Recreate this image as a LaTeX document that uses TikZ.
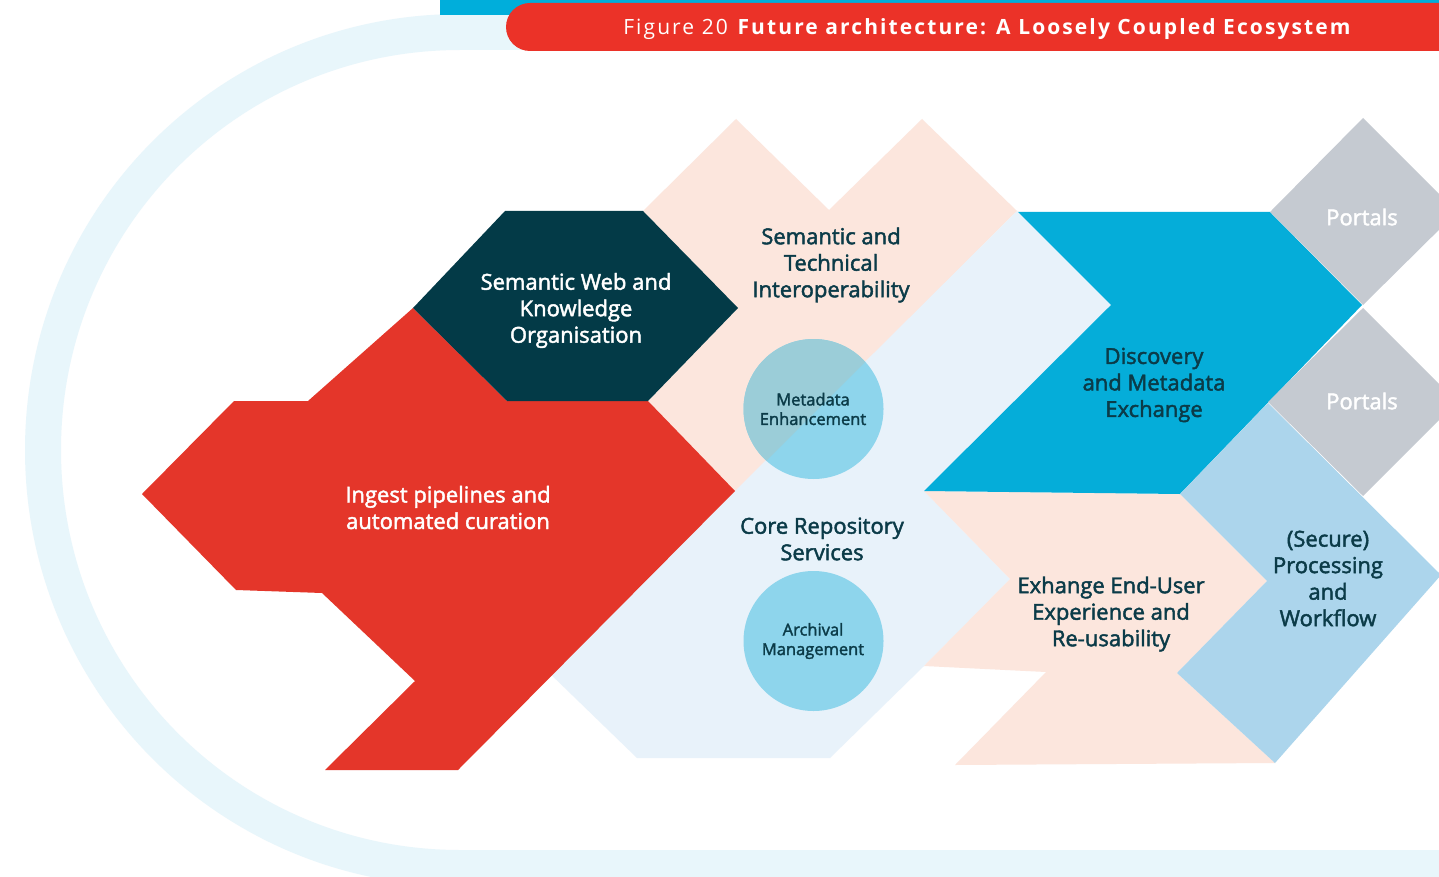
\documentclass[tikz,border=0pt]{standalone}
\usepackage{fontspec}
\setmainfont{Open Sans}
\newfontfamily\titlefont[LetterSpace=10]{Open Sans}
\newfontfamily\labelfont[FakeBold=2]{Open Sans}

\definecolor{ringblue}{HTML}{E8F6FB}
\definecolor{topblue}{HTML}{00AEDB}
\definecolor{titlered}{HTML}{EB3228}
\definecolor{ingestred}{HTML}{E4362A}
\definecolor{darkteal}{HTML}{033A47}
\definecolor{peach}{HTML}{FCE6DD}
\definecolor{coreblue}{HTML}{E8F2FA}
\definecolor{discblue}{HTML}{05ADD9}
\definecolor{portalgray}{HTML}{C5CAD1}
\definecolor{procblue}{HTML}{ACD5EC}
\definecolor{circblue}{HTML}{8ED5EC}
\definecolor{circpeach}{HTML}{9BCDD8}
\definecolor{txtdark}{HTML}{0B3B48}

\tikzset{
  lbl/.style={align=center, text=txtdark, inner sep=0pt,
              font=\labelfont\fontsize{22}{26.5}\selectfont},
  lblw/.style={lbl, text=white},
  small/.style={align=center, text=txtdark, inner sep=0pt,
              font=\labelfont\fontsize{16.5}{19.5}\selectfont},
  bubble/.style={circle, minimum size=140pt, inner sep=0pt, fill=circblue},
}

\begin{document}
\begin{tikzpicture}[x=1pt, y=-1pt]
\useasboundingbox (0,0) rectangle (1439,877);
\fill[white] (0,0) rectangle (1439,877);

% surrounding ring
\draw[ringblue, line width=36pt]
  (1500,32) -- (460,32)
  .. controls (229,32) and (43,219) .. (43,450)
  .. controls (43,681) and (229,868) .. (460,868) -- (1500,868);

% title banner
\fill[topblue] (440,-5) rectangle (1439,15);
\fill[titlered, rounded corners=24pt] (506,3) rectangle (1480,51);
\node[text=white, inner sep=0pt, font=\titlefont\fontsize{21}{24}\selectfont]
  (title) at (988,29.5) {Figure 20 \textbf{Future architecture: A Loosely Coupled Ecosystem}};

% semantic and technical interoperability
\fill[peach] (643,211) -- (736,119) -- (829,210) -- (922,119) -- (1017,211)
  -- (735,492) -- (648,401) -- (738,308) -- cycle;

% core repository services
\fill[coreblue] (1017,211) -- (1111,305) -- (924,491) -- (1010,579) -- (924,666)
  -- (830,758) -- (637,758) -- (540,664) -- (735,491) -- cycle;

% exchange end-user experience
\fill[peach] (924,491) -- (1180,494) -- (1267,581) -- (1177,673) -- (1275,763)
  -- (955,765) -- (1046,672) -- (924,666) -- (1010,579) -- cycle;

% discovery and metadata exchange
\fill[discblue] (1018,212) -- (1270,212) -- (1362,305) -- (1180,494)
  -- (924,491) -- (1111,305) -- cycle;

% portals
\fill[portalgray] (1363,118) -- (1457,212) -- (1363,305) -- (1270,212) -- cycle;
\fill[portalgray] (1363,308) -- (1457,402) -- (1363,496) -- (1268,402) -- cycle;

% processing and workflow
\fill[procblue] (1268,403) -- (1441,575) -- (1275,763) -- (1177,673)
  -- (1267,581) -- (1180,494) -- cycle;

% ingest pipelines
\fill[ingestred] (142,494) -- (234,401) -- (308,401) -- (413,308) -- (507,401)
  -- (648,401) -- (735,491) -- (458,770) -- (325,770) -- (415,681)
  -- (322,593) -- (236,590) -- cycle;

% semantic web hexagon
\fill[darkteal] (413,308) -- (505,211) -- (643,211) -- (738,308) -- (648,401)
  -- (507,401) -- cycle;

% bubbles
\node[bubble] (meta) at (813.5,409) {};
\begin{scope}
  \clip (813.5,409) circle[radius=70];
  \fill[circpeach] (700,300) -- (927,300) -- (700,527) -- cycle;
\end{scope}
\node[bubble] (arch) at (813.5,641) {};

% labels
\node[lblw] (semweb) at (576,310.5) {Semantic Web and\\Knowledge\\Organisation};
\node[lbl] (semtech) at (831,265) {Semantic and\\Technical\\Interoperability};
\node[lblw] (ingest) at (448,507.5) {Ingest pipelines and\\automated curation};
\node[small] (metatxt) at (813,409) {Metadata\\Enhancement};
\node[lbl] (core) at (822,539) {Core Repository\\Services};
\node[small] (archtxt) at (813,641) {Archival\\Management};
\node[lbl] (disc) at (1154,385) {Discovery\\and Metadata\\Exchange};
\node[lbl] (exch) at (1111,614) {Exhange End-User\\Experience and\\Re-usability};
\node[lbl] (proc) at (1328,578.5) {(Secure)\\Processing\\and\\Workflow};
\node[lblw] (portal1) at (1362,217) {Portals};
\node[lblw] (portal2) at (1362,401) {Portals};
\end{tikzpicture}
\end{document}
